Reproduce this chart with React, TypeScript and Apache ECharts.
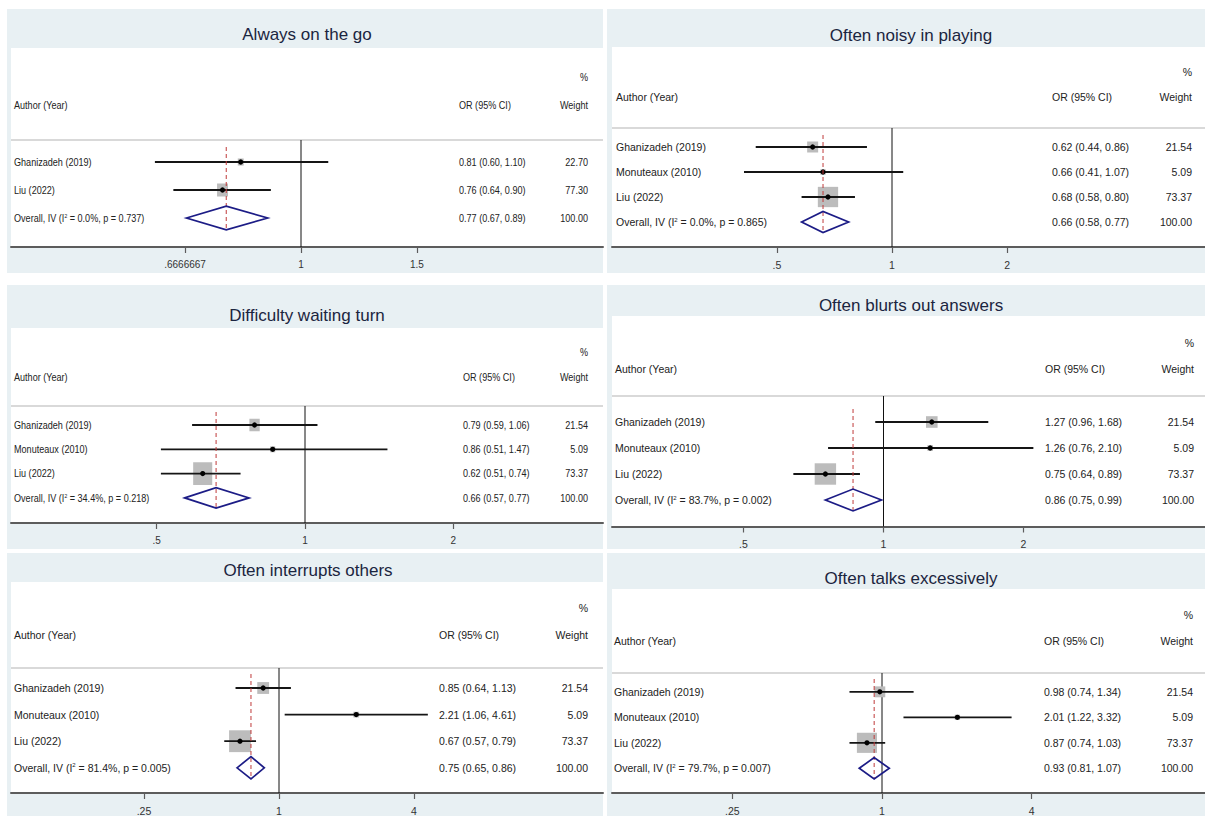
import React, { useEffect, useRef } from 'react';
import * as echarts from 'echarts';

const FONT = '"Liberation Sans", Arial, Helvetica, sans-serif';

// ---------------- data ----------------
const titles = [
  'Always on the go',
  'Often noisy in playing',
  'Difficulty waiting turn',
  'Often blurts out answers',
  'Often interrupts others',
  'Often talks excessively',
];

const authors2 = ['Ghanizadeh (2019)', 'Liu (2022)'];
const authors3 = ['Ghanizadeh (2019)', 'Monuteaux (2010)', 'Liu (2022)'];
const weights2 = [22.7, 77.3];
const weights3 = [21.54, 5.09, 73.37];

// Always on the go
const goOr = [0.81, 0.76];
const goLo = [0.6, 0.64];
const goHi = [1.1, 0.9];
const goOverall = [0.77, 0.67, 0.89];
const goHet = ['0.0%', '0.737'];

// Often noisy in playing
const noisyOr = [0.62, 0.66, 0.68];
const noisyLo = [0.44, 0.41, 0.58];
const noisyHi = [0.86, 1.07, 0.8];
const noisyOverall = [0.66, 0.58, 0.77];
const noisyHet = ['0.0%', '0.865'];

// Difficulty waiting turn
const waitOr = [0.79, 0.86, 0.62];
const waitLo = [0.59, 0.51, 0.51];
const waitHi = [1.06, 1.47, 0.74];
const waitOverall = [0.66, 0.57, 0.77];
const waitHet = ['34.4%', '0.218'];

// Often blurts out answers
const blurtOr = [1.27, 1.26, 0.75];
const blurtLo = [0.96, 0.76, 0.64];
const blurtHi = [1.68, 2.1, 0.89];
const blurtOverall = [0.86, 0.75, 0.99];
const blurtHet = ['83.7%', '0.002'];

// Often interrupts others
const intOr = [0.85, 2.21, 0.67];
const intLo = [0.64, 1.06, 0.57];
const intHi = [1.13, 4.61, 0.79];
const intOverall = [0.75, 0.65, 0.86];
const intHet = ['81.4%', '0.005'];

// Often talks excessively
const talkOr = [0.98, 2.01, 0.87];
const talkLo = [0.74, 1.22, 0.74];
const talkHi = [1.34, 3.32, 1.03];
const talkOverall = [0.93, 0.81, 1.07];
const talkHet = ['79.7%', '0.007'];

const ticksThirds = [0.6666667, 1, 1.5];
const labelsThirds = ['.6666667', '1', '1.5'];
const ticksHalf = [0.5, 1, 2];
const labelsHalf = ['.5', '1', '2'];
const ticksQuarter = [0.25, 1, 4];
const labelsQuarter = ['.25', '1', '4'];

const panels = [
  { title: titles[0], authors: authors2, or: goOr, lo: goLo, hi: goHi, w: weights2, overall: goOverall, het: goHet, ticks: ticksThirds, tickLabels: labelsThirds },
  { title: titles[1], authors: authors3, or: noisyOr, lo: noisyLo, hi: noisyHi, w: weights3, overall: noisyOverall, het: noisyHet, ticks: ticksHalf, tickLabels: labelsHalf },
  { title: titles[2], authors: authors3, or: waitOr, lo: waitLo, hi: waitHi, w: weights3, overall: waitOverall, het: waitHet, ticks: ticksHalf, tickLabels: labelsHalf },
  { title: titles[3], authors: authors3, or: blurtOr, lo: blurtLo, hi: blurtHi, w: weights3, overall: blurtOverall, het: blurtHet, ticks: ticksHalf, tickLabels: labelsHalf },
  { title: titles[4], authors: authors3, or: intOr, lo: intLo, hi: intHi, w: weights3, overall: intOverall, het: intHet, ticks: ticksQuarter, tickLabels: labelsQuarter },
  { title: titles[5], authors: authors3, or: talkOr, lo: talkLo, hi: talkHi, w: weights3, overall: talkOverall, het: talkHet, ticks: ticksQuarter, tickLabels: labelsQuarter },
];

// ---------------- layout (pixels) ----------------
const layouts = [
  { bg: [7, 9, 603, 273], white: [11, 48], sep: 140, axisY: 247, row0: 162, step: 28, x1: 301, k: 286, titleX: 307, titleY: 34, pctY: 77, headY: 105, authorX: 14, orX: 459, wRight: 588, sx: 0.84, box: 1.48, dash0: 7, fs: 10.8 },
  { bg: [607, 9, 1205, 273], white: [612, 47], sep: 128, axisY: 247, row0: 147, step: 25, x1: 892, k: 166, titleX: 911, titleY: 35, pctY: 72, headY: 97, authorX: 616, orX: 1052, wRight: 1192, sx: 1, box: 2.37, dash0: 7, fs: 10.5 },
  { bg: [7, 285, 603, 549], white: [11, 328], sep: 406, axisY: 523, row0: 425, step: 24.3, x1: 305, k: 214, titleX: 307, titleY: 315, pctY: 352, headY: 377, authorX: 14, orX: 463, wRight: 588, sx: 0.84, box: 2.65, dash0: 6, fs: 10.8 },
  { bg: [607, 285, 1205, 549], white: [612, 316], sep: 396, axisY: 526.5, row0: 422, step: 26, x1: 883.5, k: 202, titleX: 911, titleY: 305, pctY: 343, headY: 369, authorX: 615, orX: 1045, wRight: 1194, sx: 1, box: 2.5, dash0: 13, fs: 10.5 },
  { bg: [7, 553, 603, 816], white: [11, 582], sep: 668, axisY: 793, row0: 688, step: 26.6, x1: 279, k: 97.4, titleX: 308, titleY: 570, pctY: 608, headY: 635, authorX: 14, orX: 439, wRight: 588, sx: 1, box: 2.55, dash0: 6, fs: 10.5 },
  { bg: [607, 553, 1205, 816], white: [612, 589], sep: 673, axisY: 794, row0: 692, step: 25.7, x1: 882, k: 108, titleX: 911, titleY: 578, pctY: 615, headY: 641, authorX: 614, orX: 1044, wRight: 1193, sx: 1, box: 2.35, dash0: 6, fs: 10.5 },
];

const TEXT_COLOR = '#222';

function txt(text: string, x: number, y: number, align: string, sx: number, fs: number, extra: any = {}) {
  return {
    type: 'text',
    x,
    y,
    scaleX: sx,
    style: {
      text,
      x: 0,
      y: 0,
      align,
      textAlign: align,
      verticalAlign: 'middle',
      textVerticalAlign: 'middle',
      fill: TEXT_COLOR,
      fontSize: fs,
      fontFamily: FONT,
      ...extra,
    },
  };
}

const ci = (o: number, l: number, h: number) => `${o.toFixed(2)} (${l.toFixed(2)}, ${h.toFixed(2)})`;

function buildOption() {
  const grids: any[] = [];
  const xAxes: any[] = [];
  const yAxes: any[] = [];
  const series: any[] = [];
  const graphics: any[] = [];

  panels.forEach((P, i) => {
    const L = layouts[i];
    const n = P.or.length;
    const yMin = -(L.row0 - L.sep) / L.step;
    const yMax = (L.axisY - L.row0) / L.step;
    const lnTicks = P.ticks.map((t) => Math.log(t));

    graphics.push({
      type: 'rect', z: -10,
      shape: { x: L.bg[0], y: L.bg[1], width: L.bg[2] - L.bg[0], height: L.bg[3] - L.bg[1] },
      style: { fill: '#e8f0f3' },
    });
    graphics.push({
      type: 'rect', z: -9,
      shape: { x: L.white[0], y: L.white[1], width: L.bg[2] - L.white[0], height: L.axisY - L.white[1] },
      style: { fill: '#ffffff' },
    });
    graphics.push({
      type: 'line', z: -8,
      shape: { x1: L.white[0], y1: L.sep, x2: L.bg[2], y2: L.sep },
      style: { stroke: '#cdcdcd', lineWidth: 1.6 },
    });
    graphics.push({
      type: 'text', z: 10, x: L.titleX, y: L.titleY,
      style: {
        text: P.title, x: 0, y: 0, align: 'center', textAlign: 'center', verticalAlign: 'middle', textVerticalAlign: 'middle',
        fill: '#1b2540', fontSize: 17, fontFamily: FONT,
      },
    });
    const hdr = (t: string, x: number, y: number, a: string) => ({ ...txt(t, x, y, a, L.sx, L.fs), z: 10 });
    graphics.push(hdr('%', L.wRight, L.pctY, 'right'));
    graphics.push(hdr('Author (Year)', L.authorX, L.headY, 'left'));
    graphics.push(hdr('OR (95% CI)', L.orX, L.headY, 'left'));
    graphics.push(hdr('Weight', L.wRight, L.headY, 'right'));

    grids.push({ left: L.white[0], top: L.sep, width: L.bg[2] - L.white[0], height: L.axisY - L.sep, show: false });

    xAxes.push({
      type: 'value',
      gridIndex: i,
      min: (L.white[0] - L.x1) / L.k,
      max: (L.bg[2] - L.x1) / L.k,
      splitLine: { show: false },
      axisLine: { show: true, onZero: false, lineStyle: { color: '#5c5c5c', width: 2 } },
      axisTick: { show: true, customValues: lnTicks, length: 6, lineStyle: { color: '#5c5c5c', width: 1.2 } },
      axisLabel: {
        show: true,
        customValues: lnTicks,
        margin: 12,
        color: '#333',
        fontSize: L.sx < 1 ? 10 : 10.5,
        fontFamily: FONT,
        formatter: (v: number) => {
          const idx = lnTicks.findIndex((t) => Math.abs(t - v) < 1e-6);
          return idx >= 0 ? P.tickLabels[idx] : '';
        },
      },
    });
    yAxes.push({ type: 'value', gridIndex: i, inverse: true, min: yMin, max: yMax, show: false });

    // null line (OR = 1)
    series.push({
      type: 'custom',
      xAxisIndex: i,
      yAxisIndex: i,
      z: 1,
      data: [[Math.log(1), 0]],
      encode: { x: 0, y: 1 },
      renderItem: (params: any, api: any) => {
        const cs = params.coordSys;
        const px = api.coord([api.value(0), 0])[0];
        return {
          type: 'line',
          shape: { x1: px, y1: cs.y, x2: px, y2: cs.y + cs.height },
          style: { stroke: '#111', lineWidth: 1 },
        };
      },
    });

    // studies
    series.push({
      type: 'custom',
      xAxisIndex: i,
      yAxisIndex: i,
      z: 2,
      data: P.or.map((o, j) => [Math.log(o), Math.log(P.lo[j]), Math.log(P.hi[j]), j]),
      encode: { x: [0, 1, 2], y: 3 },
      renderItem: (params: any, api: any) => {
        const j = params.dataIndex;
        const row = api.value(3);
        const c = api.coord([api.value(0), row]);
        const a = api.coord([api.value(1), row]);
        const b = api.coord([api.value(2), row]);
        const side = L.box * Math.sqrt(P.w[j]);
        const bw = side * L.sx;
        const bh = side;
        return {
          type: 'group',
          children: [
            { type: 'rect', shape: { x: c[0] - bw / 2, y: c[1] - bh / 2, width: bw, height: bh }, style: { fill: '#bcbcbc' } },
            { type: 'line', shape: { x1: a[0], y1: a[1], x2: b[0], y2: b[1] }, style: { stroke: '#151515', lineWidth: 1.8 } },
            { type: 'circle', shape: { cx: c[0], cy: c[1], r: 2.6 }, style: { fill: '#000' } },
            txt(P.authors[j], L.authorX, c[1], 'left', L.sx, L.fs),
            txt(ci(P.or[j], P.lo[j], P.hi[j]), L.orX, c[1], 'left', L.sx, L.fs),
            txt(P.w[j].toFixed(2), L.wRight, c[1], 'right', L.sx, L.fs),
          ],
        };
      },
    });

    // overall
    const ov = P.overall;
    series.push({
      type: 'custom',
      xAxisIndex: i,
      yAxisIndex: i,
      z: 3,
      data: [[Math.log(ov[0]), Math.log(ov[1]), Math.log(ov[2]), n]],
      encode: { x: [0, 1, 2], y: 3 },
      renderItem: (params: any, api: any) => {
        const cs = params.coordSys;
        const row = api.value(3);
        const c = api.coord([api.value(0), row]);
        const top = api.coord([api.value(0), row - 0.42]);
        const bot = api.coord([api.value(0), row + 0.42]);
        const l = api.coord([api.value(1), row]);
        const r = api.coord([api.value(2), row]);
        return {
          type: 'group',
          children: [
            {
              type: 'line',
              shape: { x1: c[0], y1: cs.y + L.dash0, x2: c[0], y2: bot[1] },
              style: { stroke: '#bf3a3a', lineWidth: 1, lineDash: [4, 3] },
            },
            {
              type: 'polygon',
              shape: { points: [[l[0], c[1]], [c[0], top[1]], [r[0], c[1]], [c[0], bot[1]]] },
              style: { fill: 'none', stroke: '#1c1c86', lineWidth: 1.7 },
            },
            txt(`Overall, IV (I{sup|2} = ${P.het[0]}, p = ${P.het[1]})`, L.authorX, c[1], 'left', L.sx, L.fs, {
              rich: {
                sup: { fontSize: 6, fontFamily: FONT, fill: TEXT_COLOR, verticalAlign: 'top', textVerticalAlign: 'top', padding: [0, 0, 4, 0] },
              },
            }),
            txt(ci(ov[0], ov[1], ov[2]), L.orX, c[1], 'left', L.sx, L.fs),
            txt('100.00', L.wRight, c[1], 'right', L.sx, L.fs),
          ],
        };
      },
    });
  });

  return {
    animation: false,
    backgroundColor: '#ffffff',
    grid: grids,
    xAxis: xAxes,
    yAxis: yAxes,
    series,
    graphic: { elements: graphics },
  };
}

export default function App() {
  const ref = useRef<HTMLDivElement>(null);
  useEffect(() => {
    document.body.style.margin = '0';
    const chart = echarts.init(ref.current!, undefined, { renderer: 'svg' });
    chart.setOption(buildOption() as any);
    return () => chart.dispose();
  }, []);
  return <div ref={ref} style={{ position: 'absolute', left: 0, top: 0, width: 1205, height: 816 }} />;
}
